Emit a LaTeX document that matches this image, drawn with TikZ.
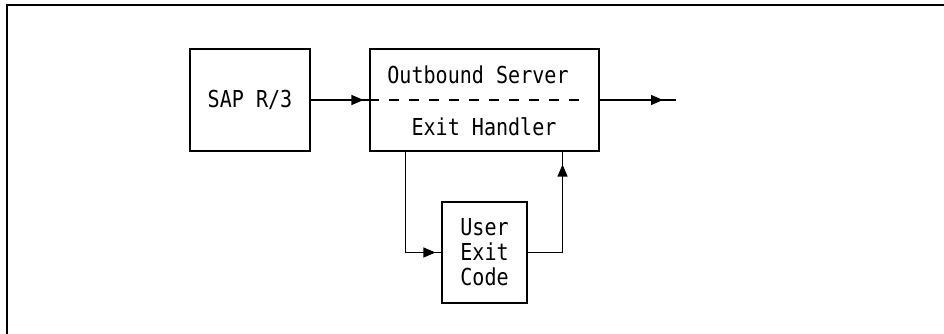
\documentclass[tikz,border=0pt]{standalone}
\usepackage{fontspec}
\setmonofont[FakeStretch=0.86]{DejaVu Sans Mono}
\usetikzlibrary{arrows.meta,decorations.markings}

\tikzset{
  blk/.style={draw,line width=0.8pt,inner sep=0pt,font=\ttfamily\fontsize{17.5}{18.75}\selectfont,align=center},
  lbl/.style={inner sep=0pt,font=\ttfamily\fontsize{17.5}{18.75}\selectfont},
  flow/.style={line width=0.8pt,postaction={decorate},
    decoration={markings,mark=at position #1 with {\arrow{Triangle[length=9pt,width=7.5pt]}}}},
  flow/.default=-4.5pt
}

\begin{document}
\begin{tikzpicture}[x=0.75pt,y=0.75pt,yscale=-1,xscale=1]
        \useasboundingbox (0,0) rectangle (944,334);
        % frame
        \draw [line width=1.2pt] (944,5) -- (7,5) -- (7,334);
        % boxes
        \node [blk,minimum width=90pt,minimum height=76.5pt] (sap) at (250,100) {SAP R/3};
        \node [blk,minimum width=171.75pt,minimum height=76.5pt] (out) at (484.5,100) {};
        \node [blk,minimum width=63.75pt,minimum height=75.75pt] (user) at (484.5,252.5) {User\\Exit\\Code};
        \node [lbl] (srv) at (478,75) {Outbound Server};
        \node [lbl] (hdl) at (484,127) {Exit Handler};
        \draw [line width=0.8pt,dash pattern={on 7.5pt off 7.5pt}] (out.west) -- ([xshift=-14.25pt]out.east);
        \coordinate (outend) at (676,100);
        % connectors
        \draw [flow] (sap.east) -- (out.west);
        \draw [flow=-9.75pt] (out.east) -- (outend);
        \draw [flow] ([xshift=27pt]out.south west) |- (user.west);
        \draw [flow=-9.75pt] (user.east) -| ([xshift=-27.75pt]out.south east);
\end{tikzpicture}
\end{document}
